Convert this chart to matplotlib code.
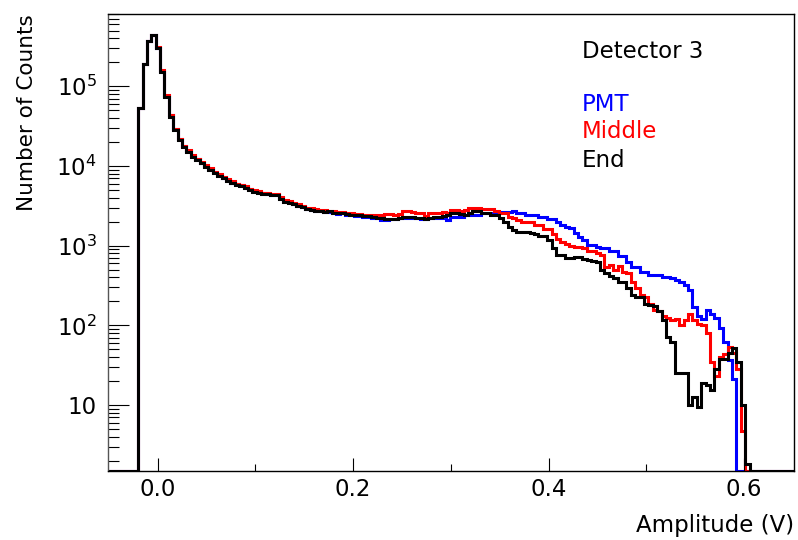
import numpy as np
import matplotlib
matplotlib.use("Agg")
import matplotlib.pyplot as plt
from matplotlib.ticker import FixedLocator, LogLocator, FuncFormatter, NullFormatter

# -------------------------------------
#  Histogram data (Detector 3, amplitude spectra)
# -------------------------------------

bin_start = -0.02     # V, low edge of first filled bin
bin_width = 0.0045    # V

pmt = [
    5.4e4, 1.89e5, 3.7e5, 4.4e5, 3.0e5, 1.55e5, 7.6e4, 4.3e4, 2.95e4, 2.2e4,
    1.78e4, 1.55e4, 1.35e4, 1.22e4, 1.1e4, 1.0e4, 9.1e3, 8.3e3, 7.7e3, 7.1e3,
    6.6e3, 6.2e3, 5.9e3, 5.7e3, 5.45e3, 5.1e3, 4.85e3, 4.7e3, 4.55e3, 4.5e3,
    4.35e3, 4.35e3, 3.95e3, 3.6e3, 3.5e3, 3.35e3, 3.15e3, 3.03e3, 2.85e3, 2.8e3,
    2.75e3, 2.7e3, 2.65e3, 2.65e3, 2.6e3, 2.5e3, 2.55e3, 2.45e3, 2.4e3, 2.35e3,
    2.38e3, 2.3e3, 2.3e3, 2.25e3, 2.2e3, 2.1e3, 2.1e3, 2.15e3, 2.15e3, 2.2e3,
    2.25e3, 2.25e3, 2.25e3, 2.25e3, 2.14e3, 2.14e3, 2.2e3, 2.2e3, 2.2e3, 2.2e3,
    2.1e3, 2.3e3, 2.3e3, 2.3e3, 2.4e3, 2.4e3, 2.4e3, 2.4e3, 2.6e3, 2.6e3,
    2.6e3, 2.6e3, 2.62e3, 2.62e3, 2.62e3, 2.75e3, 2.6e3, 2.6e3, 2.4e3, 2.4e3,
    2.4e3, 2.3e3, 2.3e3, 2.14e3, 2.14e3, 2.0e3, 1.8e3, 1.7e3, 1.65e3, 1.45e3,
    1.3e3, 1.19e3, 1.03e3, 1.03e3, 960, 930, 930, 860, 860, 750,
    750, 630, 545, 545, 470, 470, 430, 430, 430, 410,
    410, 390, 370, 355, 320, 280, 170, 130, 120, 156,
    140, 125, 92, 62, 37, 21, 0, 0, 0,
]

middle = [
    5.4e4, 1.9e5, 3.7e5, 4.4e5, 3.1e5, 1.58e5, 7.7e4, 4.3e4, 2.95e4, 2.2e4,
    1.8e4, 1.58e4, 1.37e4, 1.24e4, 1.13e4, 1.02e4, 9.3e3, 8.5e3, 7.9e3, 7.3e3,
    6.8e3, 6.4e3, 6.0e3, 5.8e3, 5.55e3, 5.2e3, 4.95e3, 4.8e3, 4.6e3, 4.6e3,
    4.45e3, 4.4e3, 4.05e3, 3.7e3, 3.6e3, 3.45e3, 3.3e3, 3.15e3, 3.0e3, 2.95e3,
    2.9e3, 2.8e3, 2.8e3, 2.75e3, 2.7e3, 2.65e3, 2.65e3, 2.6e3, 2.55e3, 2.5e3,
    2.5e3, 2.45e3, 2.45e3, 2.42e3, 2.4e3, 2.45e3, 2.48e3, 2.48e3, 2.45e3, 2.48e3,
    2.7e3, 2.7e3, 2.65e3, 2.55e3, 2.55e3, 2.35e3, 2.6e3, 2.6e3, 2.6e3, 2.65e3,
    2.6e3, 2.8e3, 2.8e3, 2.75e3, 2.8e3, 3.0e3, 3.0e3, 3.0e3, 2.85e3, 2.85e3,
    2.85e3, 2.75e3, 2.55e3, 2.55e3, 2.3e3, 2.2e3, 2.1e3, 2.0e3, 2.0e3, 2.0e3,
    1.8e3, 1.8e3, 1.64e3, 1.6e3, 1.42e3, 1.2e3, 1.1e3, 1.05e3, 1.0e3, 970,
    950, 930, 860, 860, 800, 770, 545, 580, 500, 550,
    470, 460, 350, 295, 240, 225, 187, 156, 150, 130,
    125, 118, 120, 100, 118, 140, 118, 105, 100, 80,
    35, 23, 40, 44, 54, 45, 28, 4.7, 0,
]

end = [
    5.4e4, 1.89e5, 3.7e5, 4.4e5, 3.0e5, 1.52e5, 7.4e4, 4.1e4, 2.83e4, 2.12e4,
    1.72e4, 1.51e4, 1.31e4, 1.19e4, 1.08e4, 9.8e3, 8.9e3, 8.1e3, 7.5e3, 7.0e3,
    6.5e3, 6.1e3, 5.8e3, 5.6e3, 5.35e3, 5.0e3, 4.76e3, 4.6e3, 4.45e3, 4.45e3,
    4.3e3, 4.3e3, 3.9e3, 3.56e3, 3.46e3, 3.33e3, 3.15e3, 3.03e3, 2.86e3, 2.8e3,
    2.75e3, 2.7e3, 2.65e3, 2.7e3, 2.6e3, 2.55e3, 2.58e3, 2.5e3, 2.45e3, 2.4e3,
    2.42e3, 2.35e3, 2.33e3, 2.3e3, 2.25e3, 2.2e3, 2.15e3, 2.14e3, 2.14e3, 2.2e3,
    2.27e3, 2.27e3, 2.3e3, 2.25e3, 2.2e3, 2.14e3, 2.2e3, 2.31e3, 2.3e3, 2.35e3,
    2.4e3, 2.55e3, 2.55e3, 2.5e3, 2.4e3, 2.6e3, 2.7e3, 2.7e3, 2.55e3, 2.55e3,
    2.45e3, 2.4e3, 2.2e3, 2.0e3, 1.73e3, 1.57e3, 1.5e3, 1.48e3, 1.47e3, 1.45e3,
    1.4e3, 1.31e3, 1.31e3, 1.19e3, 930, 770, 760, 700, 700, 730,
    720, 680, 660, 640, 630, 490, 450, 420, 390, 355,
    350, 295, 240, 230, 225, 187, 180, 175, 150, 118,
    72, 62, 25, 25, 25, 10, 12.6, 9.4, 19, 18,
    15.5, 28, 38, 38, 45, 52, 35, 10, 1.8,
]

series = [("PMT", pmt, "#0000ff"), ("Middle", middle, "#ff0000"), ("End", end, "black")]

x_range = (-0.0508, 0.651)
y_range = (1.49, 8.07e5)
x_major = [0.0, 0.2, 0.4, 0.6]
x_minor = [0.1, 0.3, 0.5]

FS = 16.5

# -------------------------------------
#  Plot
# -------------------------------------

fig = plt.figure(figsize=(7.98, 5.4), dpi=100)
W, H = 798, 540
ax = fig.add_axes([108 / W, 1 - 471 / H, (794 - 108) / W, (471 - 14) / H])

ymin = y_range[0]
for name, vals, color in series:
    n = len(vals)
    inner = bin_start + bin_width * np.arange(n + 1)
    edges = np.concatenate([[x_range[0]], inner, [x_range[1]]])
    v = np.array(vals, dtype=float)
    v = np.where(v > 0, v, ymin)
    v = np.concatenate([[ymin], v, [ymin]])
    ax.stairs(v, edges, baseline=None, color=color, lw=2.2)

ax.set_yscale("log")
ax.set_xlim(*x_range)
ax.set_ylim(*y_range)

ax.xaxis.set_major_locator(FixedLocator(x_major))
ax.xaxis.set_minor_locator(FixedLocator(x_minor))
ax.xaxis.set_major_formatter(FuncFormatter(lambda v, p: f"{v:.1f}"))

ax.yaxis.set_major_locator(LogLocator(base=10, numticks=12))
ax.yaxis.set_minor_locator(LogLocator(base=10, subs=np.arange(2, 10), numticks=12))
ax.yaxis.set_minor_formatter(NullFormatter())


def ylab(v, pos):
    e = int(round(np.log10(v)))
    if e == 1:
        return "10"
    return r"$\mathregular{10^{%d}}$" % e


ax.yaxis.set_major_formatter(FuncFormatter(ylab))

ax.tick_params(axis="both", which="both", direction="in", top=False, right=False,
               width=0.8, labelsize=FS)
ax.tick_params(axis="y", which="major", length=15, pad=8)
ax.tick_params(axis="y", which="minor", length=8)
ax.tick_params(axis="x", which="major", length=9.5, pad=5)
ax.tick_params(axis="x", which="minor", length=5)

for s in ax.spines.values():
    s.set_linewidth(1.0)
    s.set_color("black")
ax.spines["left"].set_color("#555555")

ax.set_xlabel("Amplitude (V)", loc="right", fontsize=FS)
ax.xaxis.set_label_coords(1.0, -0.095)
ax.set_ylabel("Number of Counts", loc="top", fontsize=15.5)
ax.yaxis.set_label_coords(-0.103, 1.0)

# legend-like text block
fig.text(581.7 / W, 1 - 58.3 / H, "Detector 3", fontsize=FS, va="baseline", color="black")
fig.text(581.7 / W, 1 - 110.7 / H, "PMT", fontsize=FS, va="baseline", color="#0000ff")
fig.text(581.7 / W, 1 - 138.3 / H, "Middle", fontsize=FS, va="baseline", color="#ff0000")
fig.text(581.7 / W, 1 - 166.7 / H, "End", fontsize=FS, va="baseline", color="black")

fig.savefig("out.png", dpi=100)
